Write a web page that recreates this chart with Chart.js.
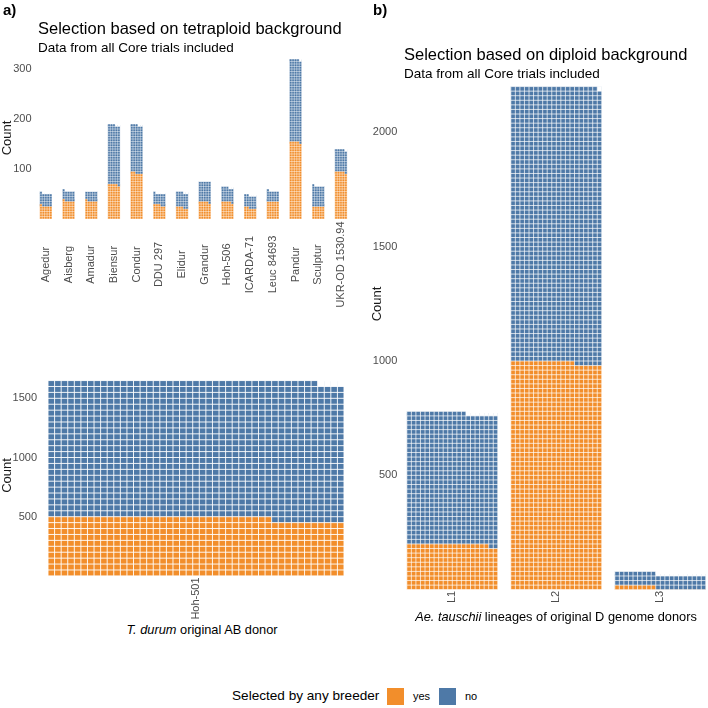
<!DOCTYPE html>
<html>
<head>
<meta charset="utf-8">
<title>Selection based on tetraploid and diploid background</title>
<script src="https://cdn.jsdelivr.net/npm/chart.js@4.4.1/dist/chart.umd.min.js"></script>
<style>
  html, body { margin: 0; padding: 0; background: #fff; width: 708px; height: 708px; overflow: hidden; }
  body { position: relative; font-family: 'Liberation Sans', Arial, sans-serif; }
  canvas { position: absolute; }
  .txt { position: absolute; white-space: nowrap; line-height: 1; color: #000; }
  .key { position: absolute; width: 17px; height: 17px; }
</style>
</head>
<body>
<canvas id="tetraChart" width="360" height="310" style="left:0;top:0"></canvas>
<canvas id="abChart" width="360" height="280" style="left:0;top:340px"></canvas>
<canvas id="dChart" width="346" height="640" style="left:370px;top:0"></canvas>

<script>
// tetraploid background, all Core trials
const tetraCultivars = ['Agedur', 'Aisberg', 'Amadur', 'Biensur', 'Condur', 'DDU 297', 'Elidur',
    'Grandur', 'Hoh-506', 'ICARDA-71', 'Leuc 84693', 'Pandur', 'Sculptur', 'UKR-OD 1530.94'];
const tetraYes = [26, 36, 36, 69, 92, 28, 23, 34, 34, 22, 35, 154, 25, 94];
const tetraNo = [25, 20, 19, 119, 96, 23, 30, 41, 29, 25, 21, 165, 41, 45];
const tetraTicks = [100, 200, 300];

// original AB donor
const abDonors = ['Hoh-501'];
const abYes = [488];
const abNo = [1157];
const abTicks = [500, 1000, 1500];

// Ae. tauschii lineages (diploid background)
const lineages = ['L1', 'L2', 'L3'];
const lineageYes = [198, 994, 9];
const lineageNo = [575, 1205, 60];
const lineageTicks = [500, 1000, 1500, 2000];

const ORANGE = '#F28E2B';
const BLUE = '#4E79A7';
const FONT = "'Liberation Sans', Arial, sans-serif";

// turns the plain stacked bars into waffles: ragged top rows + white tile lines
const waffleGrid = {
    id: 'waffleGrid',
    afterDatasetsDraw(chart, args, opts) {
        const ctx = chart.ctx;
        const y = chart.scales.y;
        const yesVals = chart.data.datasets[0].data;
        const noVals = chart.data.datasets[1].data;
        const cols = opts.cols, per = opts.perRow;
        const rowTop = r => y.getPixelForValue((r + 1) * per);
        const rowBot = r => y.getPixelForValue(r * per);

        ctx.save();
        chart.getDatasetMeta(0).data.forEach((bar, i) => {
            const w = bar.width, left = bar.x - w / 2, cw = w / cols;
            const nYes = Math.round(yesVals[i] / per * cols);
            const nAll = Math.round((yesVals[i] + noVals[i]) / per * cols);

            const rows = new Set([Math.floor(nYes / cols), Math.floor(nAll / cols)]);
            rows.forEach(r => {
                for (let c = 0; c < cols; c++) {
                    const k = r * cols + c;
                    ctx.fillStyle = k < nYes ? ORANGE : (k < nAll ? BLUE : '#ffffff');
                    ctx.fillRect(left + c * cw, rowTop(r), cw, rowBot(r) - rowTop(r));
                }
            });

            const nRows = Math.ceil(nAll / cols);
            ctx.strokeStyle = opts.lineColor;
            ctx.lineWidth = opts.lineWidth;
            ctx.beginPath();
            for (let c = 0; c <= cols; c++) {
                const x = left + c * cw;
                ctx.moveTo(x, rowBot(0));
                ctx.lineTo(x, rowTop(nRows - 1));
            }
            for (let r = 0; r <= nRows; r++) {
                const yy = rowBot(r);
                ctx.moveTo(left, yy);
                ctx.lineTo(left + w, yy);
            }
            ctx.stroke();
        });
        ctx.restore();
    }
};

// x labels turned 90 degrees and centred on the tick, as in the original;
// optionally the "Count" title too, when it is not centred on the plot area
const rotatedLabels = {
    id: 'rotatedLabels',
    afterDraw(chart, args, opts) {
        const ctx = chart.ctx, x = chart.scales.x;
        ctx.save();
        ctx.font = '11px ' + FONT;
        ctx.fillStyle = '#4d4d4d';
        ctx.textAlign = 'center';
        ctx.textBaseline = 'middle';
        chart.data.labels.forEach((lab, i) => {
            ctx.save();
            ctx.translate(x.getPixelForValue(i), opts.centerY);
            ctx.rotate(-Math.PI / 2);
            ctx.fillText(lab, 0, 0);
            ctx.restore();
        });
        if (opts.countY) {
            ctx.font = '13px ' + FONT;
            ctx.fillStyle = '#1a1a1a';
            ctx.translate(7.8, opts.countY);
            ctx.rotate(-Math.PI / 2);
            ctx.fillText('Count', 0, 0);
        }
        ctx.restore();
    }
};

function waffleChart(id, labels, yes, no, ticks, cfg) {
    return new Chart(document.getElementById(id), {
        type: 'bar',
        data: {
            labels: labels,
            datasets: [
                { label: 'yes', data: yes, backgroundColor: ORANGE, borderWidth: 0,
                  barPercentage: cfg.barPct, categoryPercentage: 1 },
                { label: 'no', data: no, backgroundColor: BLUE, borderWidth: 0,
                  barPercentage: cfg.barPct, categoryPercentage: 1 }
            ]
        },
        options: {
            responsive: false,
            animation: false,
            events: [],
            layout: { padding: cfg.padding },
            plugins: {
                legend: { display: false },
                tooltip: { enabled: false },
                waffleGrid: { cols: cfg.cols, perRow: cfg.perRow, lineWidth: cfg.lineWidth, lineColor: 'rgba(255,255,255,0.9)' },
                rotatedLabels: { centerY: cfg.labelY, countY: cfg.countY }
            },
            scales: {
                x: { stacked: true, display: false },
                y: {
                    stacked: true,
                    min: 0,
                    max: cfg.max,
                    afterBuildTicks: s => { s.ticks = ticks.map(v => ({ value: v })); },
                    afterFit: s => { s.width = cfg.axisWidth; },
                    grid: { display: false, drawTicks: false },
                    border: { display: false },
                    ticks: { color: '#4d4d4d', font: { size: 11, family: FONT }, padding: 3,
                             callback: v => String(v) },
                    title: { display: !cfg.countY, text: 'Count', color: '#1a1a1a', font: { size: 13, family: FONT }, padding: 0 }
                }
            }
        },
        plugins: [waffleGrid, rotatedLabels]
    });
}

waffleChart('tetraChart', tetraCultivars, tetraYes, tetraNo, tetraTicks, {
    cols: 5, perRow: 5, lineWidth: 0.5, barPct: 0.54, max: 324, axisWidth: 34.5,
    padding: { top: 57, bottom: 91, left: 0, right: 7.7 }, labelY: 264.5
});
waffleChart('abChart', abDonors, abYes, abNo, abTicks, {
    cols: 45, perRow: 50, lineWidth: 1, barPct: 0.9487, max: 1697, axisWidth: 40,
    padding: { top: 35, bottom: 44.1, left: 0, right: 8 }, labelY: 258.5
});
waffleChart('dChart', lineages, lineageYes, lineageNo, lineageTicks, {
    cols: 20, perRow: 20, lineWidth: 0.8, barPct: 0.875, max: 2215.6, axisWidth: 30.3,
    padding: { top: 83, bottom: 50.3, left: 0, right: 3.7 }, labelY: 597, countY: 304
});

// titles, axis titles and legend as page text
function addText(html, size, x, baseline, opts) {
    opts = opts || {};
    const d = document.createElement('div');
    d.className = 'txt';
    d.innerHTML = html;
    d.style.fontSize = size + 'px';
    d.style.top = (baseline - 0.8465 * size) + 'px';
    d.style.left = x + 'px';
    if (opts.bold) d.style.fontWeight = 'bold';
    if (opts.center) d.style.transform = 'translateX(-50%)';
    document.body.appendChild(d);
}

addText('a)', 15, 3, 15, { bold: true });
addText('b)', 15, 373, 15, { bold: true });
addText('Selection based on tetraploid background', 16.5, 38, 34);
addText('Data from all Core trials included', 13.5, 38, 52);
addText('Selection based on diploid background', 16.5, 404, 60);
addText('Data from all Core trials included', 13.5, 404, 78);
addText('<i>T. durum</i> original AB donor', 12.8, 202, 635, { center: true });
addText('<i>Ae. tauschii</i> lineages of original D genome donors', 12.8, 556, 622, { center: true });

addText('Selected by any breeder', 13.6, 232, 701);
addText('yes', 11, 413, 700);
addText('no', 11, 465, 700);
[[387, ORANGE], [439, BLUE]].forEach(([x, col]) => {
    const k = document.createElement('div');
    k.className = 'key';
    k.style.left = x + 'px';
    k.style.top = '688px';
    k.style.background = col;
    document.body.appendChild(k);
});
</script>
</body>
</html>
